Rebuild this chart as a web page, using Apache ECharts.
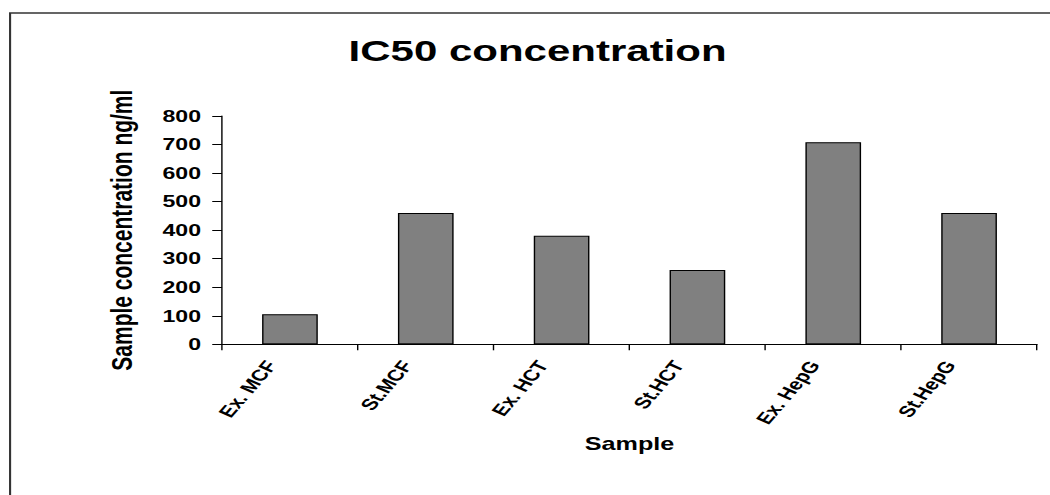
<!DOCTYPE html>
<html>
<head>
<meta charset="utf-8">
<script src="https://cdn.jsdelivr.net/npm/echarts@6/dist/echarts.min.js"></script>
<style>
  html, body { margin: 0; padding: 0; background: #fff; overflow: hidden; }
  /* The chart is laid out in a narrower frame and widened horizontally,
     which gives the text its broad, stretched look. */
  #wrap { width: 1050px; height: 495px; overflow: hidden; }
  #chart { width: 750px; height: 495px; transform: scaleX(1.4); transform-origin: 0 0; }
</style>
</head>
<body>
<div id="wrap"><div id="chart"></div></div>
<script>
const categories = ['Ex. MCF', 'St.MCF', 'Ex. HCT', 'St.HCT', 'Ex. HepG', 'St.HepG'];
const ic50Values = [105, 460, 380, 260, 708, 460];
const yTicks = { min: 0, max: 800, step: 100 };

const FONT = '"Liberation Sans", Arial, Helvetica, sans-serif';

const chart = echarts.init(document.getElementById('chart'), null, { renderer: 'svg' });

chart.setOption({
  backgroundColor: '#ffffff',
  animation: false,
  title: {
    text: 'IC50 concentration',
    left: 379,
    top: 31,
    textAlign: 'center',
    textStyle: { fontFamily: FONT, fontWeight: 'bold', fontSize: 30, color: '#000' }
  },
  graphic: [{
    type: 'rect',
    shape: { x: 7.2, y: 13, width: 900, height: 600 },
    style: { fill: 'none', stroke: '#333', lineWidth: 1.5 },
    silent: true
  }],
  grid: { left: 158.6, right: 9.3, top: 116, bottom: 150.7 },
  xAxis: {
    type: 'category',
    data: categories,
    name: 'Sample',
    nameLocation: 'middle',
    nameGap: 91,
    nameTextStyle: { fontFamily: FONT, fontWeight: 'bold', fontSize: 18, color: '#000' },
    axisLine: { lineStyle: { color: '#000', width: 1 } },
    axisTick: { show: true, alignWithLabel: false, length: 6, lineStyle: { color: '#000' } },
    axisLabel: {
      rotate: 58,
      margin: 11,
      interval: 0,
      verticalAlign: 'bottom',
      padding: [0, 13, 0, 0],
      fontFamily: FONT, fontWeight: 'bold', fontSize: 16, color: '#000'
    },
    splitLine: { show: false }
  },
  yAxis: {
    type: 'value',
    min: yTicks.min,
    max: yTicks.max,
    interval: yTicks.step,
    name: 'Sample concentration ng/ml',
    nameLocation: 'middle',
    nameRotate: 90,
    nameGap: 61,
    nameTextStyle: { fontFamily: FONT, fontWeight: 'bold', fontSize: 21, color: '#000' },
    axisLine: { show: true, lineStyle: { color: '#000', width: 1 } },
    axisTick: { show: true, length: 7, lineStyle: { color: '#000' } },
    axisLabel: { margin: 15, fontFamily: FONT, fontWeight: 'bold', fontSize: 16.5, color: '#000' },
    splitLine: { show: false }
  },
  series: [{
    type: 'bar',
    data: ic50Values,
    barCategoryGap: '59%',
    itemStyle: { color: '#808080', borderColor: '#000', borderWidth: 1 }
  }]
});
</script>
</body>
</html>
